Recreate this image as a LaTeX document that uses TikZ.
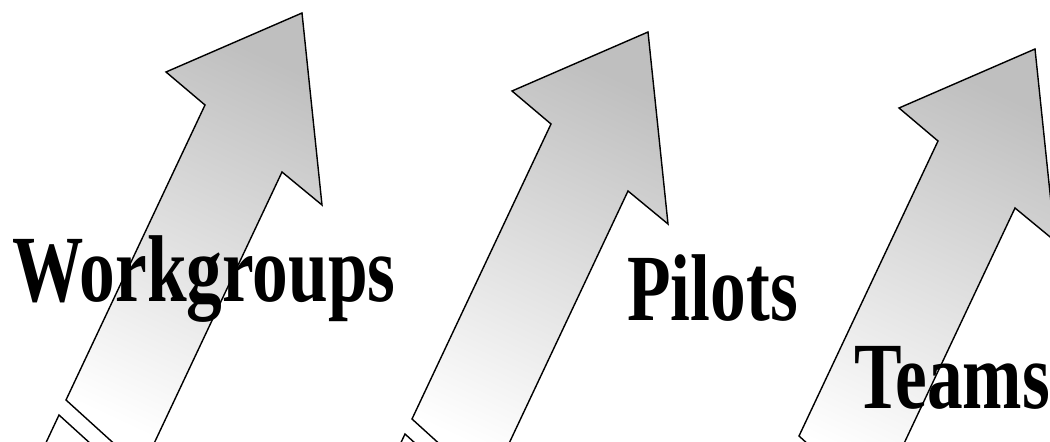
\documentclass[tikz,border=0pt]{standalone}
\usepackage{fontspec}
\newfontfamily\labelfont[FakeStretch=0.752]{Liberation Serif}

\begin{document}
\begin{tikzpicture}[x=0.02cm,y=-0.02cm,
    upar/.style={draw=black, line width=0.8pt, shading=axis, top color=black!25, middle color=black!14, bottom color=white, shading angle=-25},
    tailbox/.style={draw=black, line width=0.8pt, fill=white},
    every node/.style={font=\labelfont\bfseries\fontsize{54}{60}\selectfont, inner sep=0pt, anchor=base west}]
  \clip (0,0) rectangle (1050,442);

  % tail pieces below the arrows
  \draw[tailbox] (302,13) ++(-243,402) -- ++(76,69) -- ++(-70,149) -- ++(-76,-69) -- cycle;
  \draw[tailbox] (648,32) ++(-243,402) -- ++(76,69) -- ++(-70,149) -- ++(-76,-69) -- cycle;
  \draw[tailbox] (1035,49) ++(-243,402) -- ++(76,69) -- ++(-70,149) -- ++(-76,-69) -- cycle;

  % the three arrows, from the tip round
  \draw[upar] (302,13) -- ++(-136,59) -- ++(39,33) -- ++(-139,295) -- ++(76,69) -- ++(140,-297) -- ++(40,33) -- cycle;
  \draw[upar] (648,32) -- ++(-136,59) -- ++(39,33) -- ++(-139,295) -- ++(76,69) -- ++(140,-297) -- ++(40,33) -- cycle;
  \draw[upar] (1035,49) -- ++(-136,59) -- ++(39,33) -- ++(-139,295) -- ++(76,69) -- ++(140,-297) -- ++(40,33) -- cycle;

  \node (wg) at (12,301) {Workgroups};
  \node (pl) at (627,320) {Pilots};
  \node (tm) at (854,408) {Teams};
\end{tikzpicture}
\end{document}
